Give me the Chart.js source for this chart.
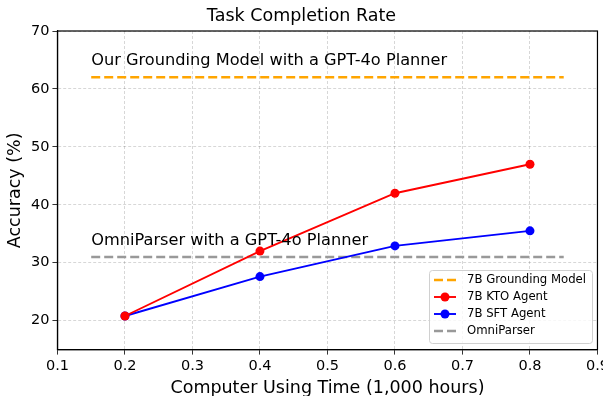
<!DOCTYPE html>
<html>
<head>
<meta charset="utf-8">
<script src="https://cdn.jsdelivr.net/npm/chart.js@4.4.0/dist/chart.umd.min.js"></script>
<style>
  html, body { margin: 0; padding: 0; background: #fff; overflow: hidden; }
  #wrap { position: absolute; left: 0; top: 0; width: 612px; height: 396px; }
</style>
</head>
<body>
<div id="wrap"><canvas id="chart"></canvas></div>
<script>
// Data
const hours = [0.2, 0.4, 0.6, 0.8];
const ktoAcc = [20.8, 32.0, 42.0, 47.0];
const sftAcc = [20.8, 27.6, 32.9, 35.5];
const refSpan = [0.15, 0.85];
const groundingAcc = 62;
const omniAcc = 31;
const xTicks = [0.1, 0.2, 0.3, 0.4, 0.5, 0.6, 0.7, 0.8, 0.9];
const yTicks = [20, 30, 40, 50, 60, 70];
const notes = [
    { text: 'Our Grounding Model with a GPT-4o Planner', x: 0.15, y: 63.5 },
    { text: 'OmniParser with a GPT-4o Planner', x: 0.15, y: 32.4 }
];

const FONT = 'DejaVu Sans';

const toPoints = (xs, ys) => xs.map((x, i) => ({ x: x, y: ys[i] }));

// Frame, annotations and legend box
const extrasPlugin = {
    id: 'extras',
    beforeDatasetsDraw(chart) {
        const { ctx, chartArea: a } = chart;
        ctx.save();
        ctx.strokeStyle = '#000';
        ctx.lineWidth = 1.2;
        ctx.strokeRect(a.left, a.top, a.right - a.left, a.bottom - a.top);
        ctx.restore();
    },
    afterDraw(chart) {
        const { ctx, scales } = chart;
        ctx.save();
        ctx.fillStyle = '#000';
        ctx.font = '16.2px ' + FONT;
        ctx.textBaseline = 'bottom';
        notes.forEach(n => {
            ctx.fillText(n.text, scales.x.getPixelForValue(n.x), scales.y.getPixelForValue(n.y));
        });

        // legend
        const bx = 429, by = 270, bw = 163, bh = 73;
        ctx.fillStyle = 'rgba(255,255,255,0.8)';
        ctx.strokeStyle = '#d0d0d0';
        ctx.lineWidth = 1;
        ctx.beginPath();
        ctx.roundRect(bx + 0.5, by + 0.5, bw, bh, 3);
        ctx.fill();
        ctx.stroke();
        ctx.font = '11.7px ' + FONT;
        ctx.textBaseline = 'middle';
        chart.data.datasets.forEach((ds, i) => {
            const y = by + 10 + i * 17;
            ctx.strokeStyle = ds.borderColor;
            ctx.lineWidth = ds.borderWidth;
            ctx.setLineDash(ds.borderDash || []);
            ctx.beginPath();
            ctx.moveTo(434, y);
            ctx.lineTo(456, y);
            ctx.stroke();
            ctx.setLineDash([]);
            if (ds.pointRadius > 0) {
                ctx.fillStyle = ds.backgroundColor;
                ctx.beginPath();
                ctx.arc(445, y, ds.pointRadius, 0, Math.PI * 2);
                ctx.fill();
            }
            ctx.fillStyle = '#000';
            ctx.fillText(ds.label, 467, y);
        });
        ctx.restore();
    }
};

new Chart(document.getElementById('chart'), {
    type: 'line',
    data: {
        datasets: [
            {
                label: '7B Grounding Model',
                data: toPoints(refSpan, [groundingAcc, groundingAcc]),
                borderColor: '#ffa500',
                backgroundColor: '#ffa500',
                borderWidth: 2.5,
                borderDash: [9, 4],
                pointRadius: 0
            },
            {
                label: '7B KTO Agent',
                data: toPoints(hours, ktoAcc),
                borderColor: '#ff0000',
                backgroundColor: '#ff0000',
                borderWidth: 1.9,
                pointRadius: 4.5,
                pointBorderWidth: 0
            },
            {
                label: '7B SFT Agent',
                data: toPoints(hours, sftAcc),
                borderColor: '#0000ff',
                backgroundColor: '#0000ff',
                borderWidth: 1.9,
                pointRadius: 4.5,
                pointBorderWidth: 0
            },
            {
                label: 'OmniParser',
                data: toPoints(refSpan, [omniAcc, omniAcc]),
                borderColor: '#999999',
                backgroundColor: '#999999',
                borderWidth: 2.5,
                borderDash: [9, 4],
                pointRadius: 0
            }
        ]
    },
    options: {
        responsive: true,
        maintainAspectRatio: false,
        animation: false,
        layout: { padding: { left: 5, right: 14, top: 6, bottom: -3 } },
        plugins: {
            legend: { display: false },
            tooltip: { enabled: false },
            title: {
                display: true,
                text: 'Task Completion Rate',
                color: '#000',
                font: { family: FONT, size: 17.5, weight: 'normal' },
                padding: { top: 0, bottom: 4 }
            }
        },
        scales: {
            x: {
                type: 'linear',
                min: 0.1,
                max: 0.9,
                afterBuildTicks: s => { s.ticks = xTicks.map(v => ({ value: v })); },
                ticks: {
                    color: '#000',
                    font: { family: FONT, size: 14.5 },
                    padding: 3,
                    maxRotation: 0,
                    callback: v => v.toFixed(1)
                },
                grid: {
                    color: 'rgba(0,0,0,0.2)',
                    lineWidth: 0.8,
                    tickColor: '#000',
                    tickLength: 5
                },
                border: { display: true, color: '#000', width: 1.2, dash: [3, 2] },
                title: {
                    display: true,
                    text: 'Computer Using Time (1,000 hours)',
                    color: '#000',
                    font: { family: FONT, size: 17.5 },
                    padding: { top: 0, bottom: 0 }
                }
            },
            y: {
                min: 15,
                max: 70,
                afterBuildTicks: s => { s.ticks = yTicks.map(v => ({ value: v })); },
                ticks: {
                    color: '#000',
                    font: { family: FONT, size: 14.5 },
                    padding: 3
                },
                grid: {
                    color: 'rgba(0,0,0,0.2)',
                    lineWidth: 0.8,
                    tickColor: '#000',
                    tickLength: 5
                },
                border: { display: true, color: '#000', width: 1.2, dash: [3, 2] },
                title: {
                    display: true,
                    text: 'Accuracy (%)',
                    color: '#000',
                    font: { family: FONT, size: 17.5 },
                    padding: { top: 0, bottom: 2 }
                }
            }
        }
    },
    plugins: [extrasPlugin]
});
</script>
</body>
</html>
